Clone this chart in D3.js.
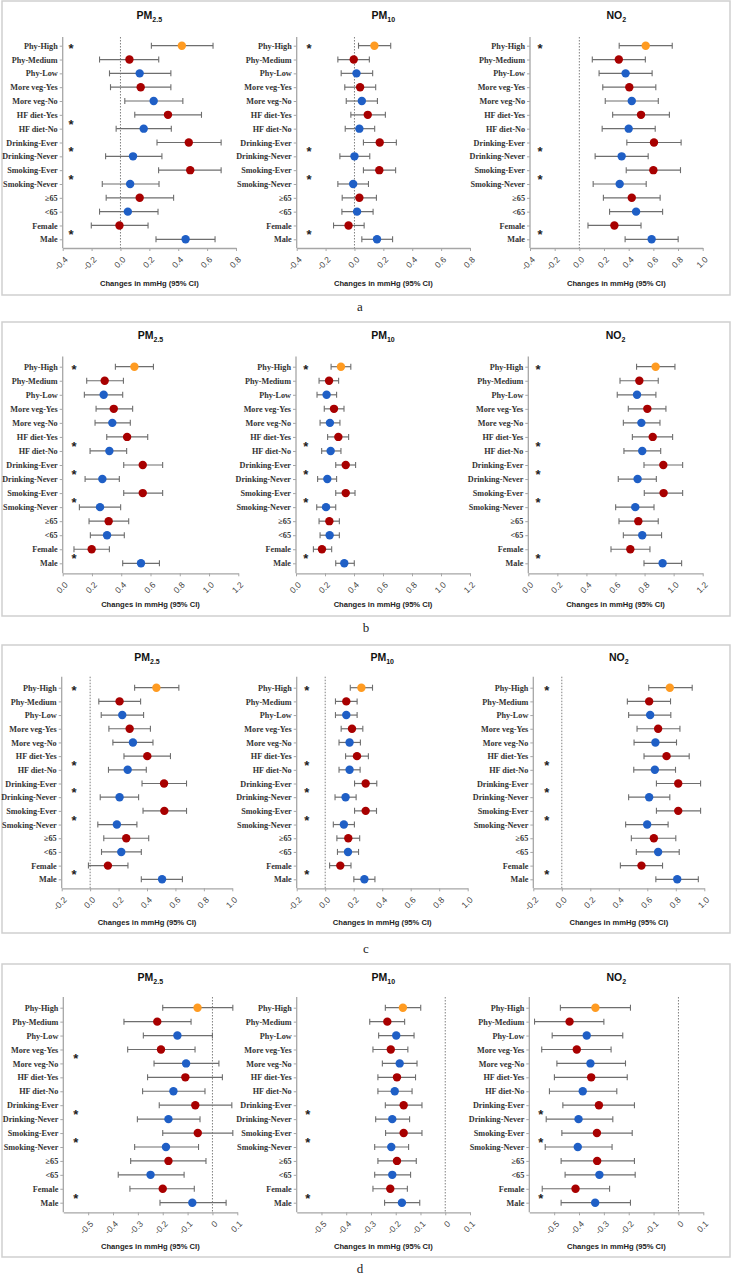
<!DOCTYPE html>
<html>
<head>
<meta charset="utf-8">
<script src="https://cdn.jsdelivr.net/npm/d3@7"></script>
<style>
  body { margin: 0; background: #fff; }
</style>
</head>
<body>
<svg id="chart" width="733" height="1278"></svg>
<script>
// ---- data ----
const categories = ["Phy-High", "Phy-Medium", "Phy-Low", "More veg-Yes", "More veg-No",
  "HF diet-Yes", "HF diet-No", "Drinking-Ever", "Drinking-Never", "Smoking-Ever",
  "Smoking-Never", "\u226565", "<65", "Female", "Male"];
const rowColors = ["#FF9B21", "#A80000", "#1F5FC6", "#A80000", "#1F5FC6", "#A80000", "#1F5FC6",
  "#A80000", "#1F5FC6", "#A80000", "#1F5FC6", "#A80000", "#1F5FC6", "#A80000", "#1F5FC6"];
const pollutants = [["PM", "2.5"], ["PM", "10"], ["NO", "2"]];

// [estimate, lower, upper]
const aPM25 = [[0.425, 0.214, 0.641], [0.062, -0.145, 0.265], [0.133, -0.076, 0.349], [0.140, -0.069, 0.349],
  [0.230, 0.030, 0.432], [0.329, 0.099, 0.561], [0.161, -0.030, 0.352], [0.473, 0.253, 0.697],
  [0.087, -0.103, 0.287], [0.483, 0.264, 0.697], [0.067, -0.126, 0.267], [0.133, -0.099, 0.368],
  [0.051, -0.145, 0.260], [-0.007, -0.202, 0.191], [0.451, 0.246, 0.655]];
const aPM10 = [[0.138, 0.028, 0.251], [-0.005, -0.115, 0.103], [0.014, -0.092, 0.126], [0.039, -0.067, 0.147],
  [0.051, -0.057, 0.159], [0.092, -0.025, 0.214], [0.034, -0.064, 0.140], [0.175, 0.062, 0.290],
  [0.000, -0.101, 0.106], [0.172, 0.062, 0.285], [-0.009, -0.115, 0.097], [0.034, -0.085, 0.152],
  [0.018, -0.087, 0.129], [-0.041, -0.145, 0.067], [0.156, 0.051, 0.264]];
const aNO2 = [[0.538, 0.323, 0.753], [0.320, 0.105, 0.535], [0.375, 0.160, 0.590], [0.405, 0.190, 0.620],
  [0.425, 0.210, 0.640], [0.500, 0.270, 0.730], [0.400, 0.185, 0.615], [0.605, 0.385, 0.825],
  [0.343, 0.128, 0.558], [0.600, 0.380, 0.820], [0.327, 0.112, 0.542], [0.425, 0.195, 0.655],
  [0.460, 0.245, 0.675], [0.284, 0.070, 0.500], [0.586, 0.371, 0.801]];

const bPM25 = [[0.490, 0.360, 0.620], [0.287, 0.164, 0.415], [0.280, 0.148, 0.410], [0.349, 0.228, 0.478],
  [0.339, 0.221, 0.462], [0.440, 0.301, 0.581], [0.319, 0.187, 0.437], [0.547, 0.417, 0.683],
  [0.271, 0.153, 0.387], [0.547, 0.417, 0.683], [0.255, 0.114, 0.396], [0.314, 0.180, 0.451],
  [0.303, 0.189, 0.421], [0.198, 0.077, 0.319], [0.535, 0.410, 0.661]];
const bPM10 = [[0.310, 0.242, 0.378], [0.228, 0.159, 0.294], [0.211, 0.145, 0.280], [0.262, 0.195, 0.331],
  [0.234, 0.166, 0.303], [0.292, 0.218, 0.363], [0.239, 0.177, 0.310], [0.343, 0.274, 0.411],
  [0.216, 0.149, 0.280], [0.343, 0.274, 0.407], [0.207, 0.143, 0.274], [0.230, 0.159, 0.299],
  [0.232, 0.166, 0.299], [0.179, 0.120, 0.246], [0.333, 0.274, 0.402]];
const bNO2 = [[0.876, 0.745, 1.009], [0.764, 0.631, 0.894], [0.748, 0.612, 0.878], [0.819, 0.688, 0.947],
  [0.778, 0.654, 0.906], [0.856, 0.716, 0.993], [0.784, 0.658, 0.911], [0.929, 0.796, 1.062],
  [0.752, 0.619, 0.881], [0.931, 0.798, 1.062], [0.736, 0.601, 0.865], [0.757, 0.624, 0.894],
  [0.784, 0.654, 0.917], [0.702, 0.569, 0.837], [0.924, 0.796, 1.055]];

const cPM25 = [[0.466, 0.313, 0.624], [0.207, 0.061, 0.355], [0.226, 0.078, 0.376], [0.278, 0.132, 0.424],
  [0.301, 0.160, 0.442], [0.402, 0.238, 0.565], [0.264, 0.129, 0.395], [0.520, 0.365, 0.678],
  [0.207, 0.071, 0.341], [0.522, 0.372, 0.678], [0.188, 0.054, 0.329], [0.254, 0.096, 0.412],
  [0.219, 0.080, 0.360], [0.125, -0.012, 0.266], [0.506, 0.360, 0.649]];
const cPM10 = [[0.254, 0.176, 0.332], [0.148, 0.072, 0.224], [0.148, 0.072, 0.224], [0.188, 0.112, 0.264],
  [0.171, 0.097, 0.247], [0.223, 0.143, 0.303], [0.171, 0.097, 0.245], [0.284, 0.206, 0.362],
  [0.143, 0.069, 0.217], [0.284, 0.206, 0.360], [0.131, 0.057, 0.205], [0.162, 0.082, 0.242],
  [0.160, 0.086, 0.234], [0.106, 0.031, 0.181], [0.275, 0.201, 0.349]];
const cNO2 = [[0.758, 0.610, 0.915], [0.613, 0.460, 0.763], [0.620, 0.469, 0.765], [0.676, 0.528, 0.829],
  [0.657, 0.507, 0.805], [0.735, 0.577, 0.894], [0.653, 0.505, 0.798], [0.817, 0.664, 0.974],
  [0.613, 0.469, 0.758], [0.817, 0.664, 0.974], [0.599, 0.448, 0.746], [0.646, 0.488, 0.800],
  [0.676, 0.523, 0.824], [0.559, 0.411, 0.707], [0.810, 0.660, 0.958]];

const dPM25 = [[-0.060, -0.200, 0.082], [-0.222, -0.356, -0.086], [-0.141, -0.278, 0.000], [-0.207, -0.341, -0.070],
  [-0.106, -0.235, 0.026], [-0.109, -0.261, 0.040], [-0.157, -0.281, -0.030], [-0.069, -0.214, 0.078],
  [-0.177, -0.302, -0.050], [-0.059, -0.200, 0.082], [-0.187, -0.313, -0.056], [-0.177, -0.329, -0.026],
  [-0.249, -0.379, -0.114], [-0.200, -0.332, -0.073], [-0.081, -0.211, 0.055]];
const dPM10 = [[-0.171, -0.242, -0.099], [-0.234, -0.305, -0.164], [-0.198, -0.269, -0.126], [-0.220, -0.292, -0.151],
  [-0.184, -0.254, -0.114], [-0.195, -0.272, -0.120], [-0.204, -0.272, -0.134], [-0.168, -0.242, -0.094],
  [-0.214, -0.281, -0.144], [-0.168, -0.241, -0.094], [-0.218, -0.285, -0.148], [-0.195, -0.272, -0.117],
  [-0.214, -0.285, -0.140], [-0.222, -0.292, -0.153], [-0.175, -0.245, -0.103]];
const dNO2 = [[-0.334, -0.475, -0.193], [-0.438, -0.579, -0.300], [-0.369, -0.508, -0.224], [-0.409, -0.550, -0.271],
  [-0.354, -0.489, -0.213], [-0.351, -0.499, -0.206], [-0.385, -0.519, -0.248], [-0.320, -0.465, -0.177],
  [-0.402, -0.532, -0.264], [-0.328, -0.469, -0.186], [-0.405, -0.536, -0.267], [-0.327, -0.472, -0.177],
  [-0.318, -0.456, -0.174], [-0.414, -0.548, -0.277], [-0.335, -0.472, -0.193]];

// row positions of the "*" marks (between the compared rows)
const aStars = [[0, 5.5, 7.5, 9.5, 13.5], [0, 7.5, 9.5, 13.5], [0, 7.5, 9.5, 13.5]];
const bStars = [[0, 5.5, 7.5, 9.5, 13.5], [0, 5.5, 7.5, 9.5, 13.5], [0, 5.5, 7.5, 9.5, 13.5]];
const cStars = [[0, 5.5, 7.5, 9.5, 13.5], [0, 5.5, 7.5, 9.5, 13.5], [0, 5.5, 7.5, 9.5, 13.5]];
const dStars = [[3.5, 7.5, 9.5, 13.5], [7.5, 9.5, 13.5], [7.5, 9.5, 13.5]];

const aDomains = [[-0.4, 0.8], [-0.4, 0.8], [-0.4, 1.0]];
const bDomains = [[0, 1.2], [0, 1.2], [0, 1.2]];
const cDomains = [[-0.2, 1.0], [-0.2, 1.0], [-0.2, 1.0]];
const dDomains = [[-0.6, 0.1], [-0.6, 0.1], [-0.6, 0.1]];
const ticksA = [-0.4, -0.2, 0, 0.2, 0.4, 0.6, 0.8];
const ticksANO2 = [-0.4, -0.2, 0, 0.2, 0.4, 0.6, 0.8, 1.0];
const ticksB = [0, 0.2, 0.4, 0.6, 0.8, 1.0, 1.2];
const ticksC = [-0.2, 0, 0.2, 0.4, 0.6, 0.8, 1.0];
const ticksD = [-0.5, -0.4, -0.3, -0.2, -0.1, 0, 0.1];

const xLabel = "Changes in mmHg (95% CI)";

// ---- layout ----
const panels = [
  { letter: "a", top: 1, bottom: 295, titleY: 15, axisTop: 37, row0: 45.7, rowN: 239.3, axisY: 248, labelY: 283,
    letterX: 360, letterY: 307, ranges: [[62.7, 236], [296.7, 470], [530, 702.7]], starX: [71, 309, 540],
    data: [aPM25, aPM10, aNO2], stars: aStars, domains: aDomains, ticks: [ticksA, ticksA, ticksANO2] },
  { letter: "b", top: 322, bottom: 616, titleY: 335, axisTop: 356.5, row0: 366.7, rowN: 563.3, axisY: 573.3, labelY: 604,
    letterX: 366, letterY: 628, ranges: [[62.7, 238.3], [296, 470], [528.3, 702.7]], starX: [74, 305.7, 538],
    data: [bPM25, bPM10, bNO2], stars: bStars, domains: bDomains, ticks: [ticksB, ticksB, ticksB] },
  { letter: "c", top: 645, bottom: 933, titleY: 656.7, axisTop: 676.7, row0: 687.7, rowN: 879.3, axisY: 888.3, labelY: 921.7,
    letterX: 366, letterY: 949, ranges: [[61.7, 232.3], [296.7, 467.7], [533.3, 704.3]], starX: [74, 306.7, 546.7],
    data: [cPM25, cPM10, cNO2], stars: cStars, domains: cDomains, ticks: [ticksC, ticksC, ticksC] },
  { letter: "d", top: 964, bottom: 1257, titleY: 976.7, axisTop: 997, row0: 1007.7, rowN: 1202.7, axisY: 1212.3, labelY: 1245.7,
    letterX: 360, letterY: 1268.5, ranges: [[63.3, 237.3], [296.7, 470], [529.3, 703.3]], starX: [75.7, 307.7, 540.7],
    data: [dPM25, dPM10, dNO2], stars: dStars, domains: dDomains, ticks: [ticksD, ticksD, ticksD] }
];

const sans = "'Liberation Sans', Arial, sans-serif";
const serif = "'Liberation Serif', 'Times New Roman', serif";
const axisColor = "#a6a6a6";
const barColor = "#6e6e6e";

const svg = d3.select("#chart");

panels.forEach(p => {
  svg.append("rect")
    .attr("x", 2).attr("y", p.top)
    .attr("width", 728).attr("height", p.bottom - p.top)
    .attr("fill", "none").attr("stroke", "#cfcfcf").attr("stroke-width", 1.5);

  svg.append("text")
    .attr("x", p.letterX).attr("y", p.letterY + 4)
    .attr("text-anchor", "middle")
    .attr("font-family", serif).attr("font-size", 13).attr("fill", "#222")
    .text(p.letter);

  const y = d3.scalePoint().domain(categories).range([p.row0, p.rowN]);
  const yPos = d3.scaleLinear().domain([0, categories.length - 1]).range([p.row0, p.rowN]);

  p.ranges.forEach((range, si) => {
    const x = d3.scaleLinear().domain(p.domains[si]).range(range);
    const g = svg.append("g");
    const rows = p.data[si].map((d, i) => ({ cat: categories[i], est: d[0], lo: d[1], hi: d[2], color: rowColors[i] }));
    const cx = (range[0] + range[1]) / 2;

    // title
    const t = g.append("text")
      .attr("x", cx).attr("y", p.titleY + 4)
      .attr("text-anchor", "middle")
      .attr("font-family", sans).attr("font-weight", "bold").attr("font-size", 10.5).attr("fill", "#111");
    t.append("tspan").text(pollutants[si][0]);
    t.append("tspan").attr("font-size", 7).attr("dy", 3).text(pollutants[si][1]);

    // zero reference line
    if (x(0) > range[0] + 1) {
      g.append("line")
        .attr("x1", x(0)).attr("x2", x(0))
        .attr("y1", p.axisTop).attr("y2", p.axisY)
        .attr("stroke", "#808080").attr("stroke-width", 1).attr("stroke-dasharray", "1.5,1.5");
    }

    // x axis
    const fmt = p.letter === "d" ? (v => v === 0 ? "0" : String(+v.toFixed(1))) : (v => v.toFixed(1));
    const gx = g.append("g")
      .attr("transform", `translate(0,${p.axisY})`)
      .call(d3.axisBottom(x).tickValues(p.ticks[si]).tickSize(3).tickSizeOuter(0).tickFormat(fmt));
    gx.select(".domain").attr("stroke", axisColor).attr("stroke-width", 1.3);
    gx.selectAll(".tick line").attr("stroke", axisColor);
    gx.selectAll(".tick text")
      .attr("y", 0).attr("dy", "0.35em")
      .attr("text-anchor", "end")
      .attr("transform", "translate(3,10) rotate(-45)")
      .attr("font-family", sans).attr("font-size", 8.5).attr("fill", "#444");

    // y axis
    g.append("line")
      .attr("x1", range[0]).attr("x2", range[0])
      .attr("y1", p.axisTop).attr("y2", p.axisY)
      .attr("stroke", axisColor).attr("stroke-width", 1.3);
    const gy = g.append("g")
      .attr("transform", `translate(${range[0]},0)`)
      .call(d3.axisLeft(y).tickSize(3).tickPadding(2));
    gy.select(".domain").remove();
    gy.selectAll(".tick line").attr("stroke", axisColor);
    gy.selectAll(".tick text")
      .attr("font-family", serif).attr("font-weight", "bold").attr("font-size", 8.2).attr("fill", "#333");

    // axis label
    g.append("text")
      .attr("x", cx).attr("y", p.labelY + 3)
      .attr("text-anchor", "middle")
      .attr("font-family", sans).attr("font-weight", "bold").attr("font-size", 7.6).attr("fill", "#222")
      .text(xLabel);

    // error bars
    const bars = g.selectAll(".bar").data(rows).enter().append("g").attr("class", "bar");
    bars.append("line")
      .attr("x1", d => x(d.lo)).attr("x2", d => x(d.hi))
      .attr("y1", d => y(d.cat)).attr("y2", d => y(d.cat))
      .attr("stroke", barColor).attr("stroke-width", 1.2);
    bars.append("line")
      .attr("x1", d => x(d.lo)).attr("x2", d => x(d.lo))
      .attr("y1", d => y(d.cat) - 3).attr("y2", d => y(d.cat) + 3)
      .attr("stroke", barColor).attr("stroke-width", 1.1);
    bars.append("line")
      .attr("x1", d => x(d.hi)).attr("x2", d => x(d.hi))
      .attr("y1", d => y(d.cat) - 3).attr("y2", d => y(d.cat) + 3)
      .attr("stroke", barColor).attr("stroke-width", 1.1);
    bars.append("circle")
      .attr("cx", d => x(d.est)).attr("cy", d => y(d.cat))
      .attr("r", 4.2)
      .attr("fill", d => d.color);

    // significance marks
    g.selectAll(".star").data(p.stars[si]).enter().append("text")
      .attr("class", "star")
      .attr("x", p.starX[si]).attr("y", d => yPos(d) + 7)
      .attr("text-anchor", "middle")
      .attr("font-family", sans).attr("font-weight", "bold").attr("font-size", 13).attr("fill", "#222")
      .text("*");
  });
});
</script>
</body>
</html>
